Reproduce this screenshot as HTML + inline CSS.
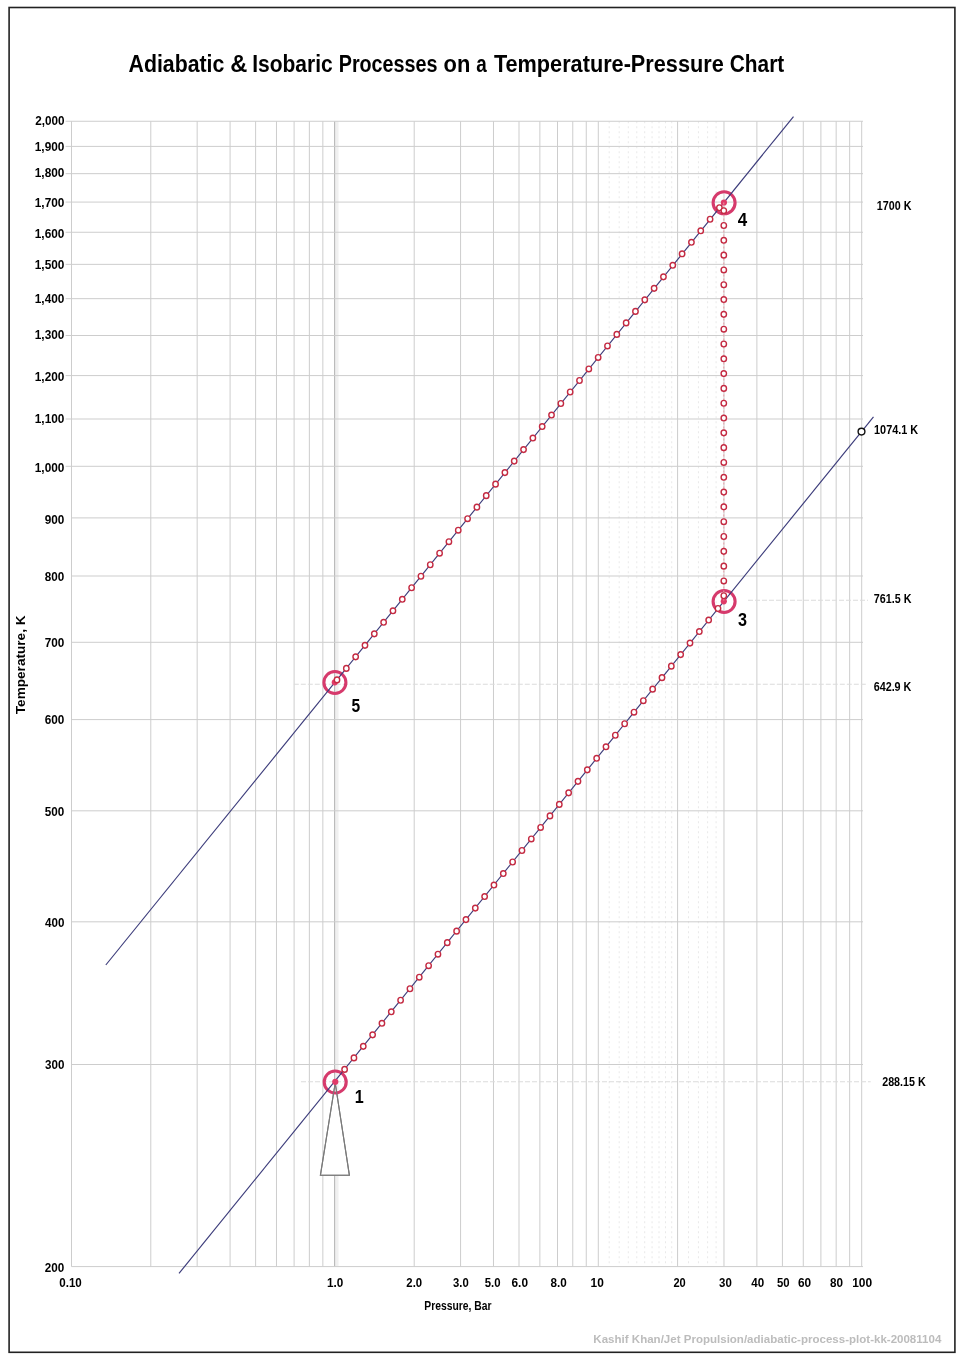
<!DOCTYPE html><html><head><meta charset="utf-8"><title>Adiabatic &amp; Isobaric Processes on a Temperature-Pressure Chart</title>
<style>html,body{margin:0;padding:0;background:#fff;overflow:hidden;}svg{display:block;}</style></head><body>
<svg width="960" height="1358" viewBox="0 0 960 1358">
<rect x="0" y="0" width="960" height="1358" fill="#fff"/>
<rect x="9.1" y="7.5" width="945.8" height="1344.8" fill="none" stroke="#222" stroke-width="1.6"/>
<text x="128.56" y="72.20" font-family="Liberation Sans, Arial, sans-serif" font-weight="bold" font-size="24.60" textLength="95.80" lengthAdjust="spacingAndGlyphs" fill="#000">Adiabatic</text>
<text x="230.25" y="72.20" font-family="Liberation Sans, Arial, sans-serif" font-weight="bold" font-size="24.60" textLength="17.11" lengthAdjust="spacingAndGlyphs" fill="#000">&amp;</text>
<text x="252.23" y="72.20" font-family="Liberation Sans, Arial, sans-serif" font-weight="bold" font-size="24.60" textLength="80.49" lengthAdjust="spacingAndGlyphs" fill="#000">Isobaric</text>
<text x="338.72" y="72.20" font-family="Liberation Sans, Arial, sans-serif" font-weight="bold" font-size="24.60" textLength="98.75" lengthAdjust="spacingAndGlyphs" fill="#000">Processes</text>
<text x="443.62" y="72.20" font-family="Liberation Sans, Arial, sans-serif" font-weight="bold" font-size="24.60" textLength="26.73" lengthAdjust="spacingAndGlyphs" fill="#000">on</text>
<text x="476.33" y="72.20" font-family="Liberation Sans, Arial, sans-serif" font-weight="bold" font-size="24.60" textLength="10.50" lengthAdjust="spacingAndGlyphs" fill="#000">a</text>
<text x="493.88" y="72.20" font-family="Liberation Sans, Arial, sans-serif" font-weight="bold" font-size="24.60" textLength="229.82" lengthAdjust="spacingAndGlyphs" fill="#000">Temperature-Pressure</text>
<text x="729.77" y="72.20" font-family="Liberation Sans, Arial, sans-serif" font-weight="bold" font-size="24.60" textLength="54.47" lengthAdjust="spacingAndGlyphs" fill="#000">Chart</text>
<line x1="609.20" y1="121.25" x2="609.20" y2="1266.60" stroke="#e9e9e9" stroke-width="1" stroke-dasharray="2 3"/>
<line x1="619.16" y1="121.25" x2="619.16" y2="1266.60" stroke="#e9e9e9" stroke-width="1" stroke-dasharray="2 3"/>
<line x1="628.31" y1="121.25" x2="628.31" y2="1266.60" stroke="#e9e9e9" stroke-width="1" stroke-dasharray="2 3"/>
<line x1="636.79" y1="121.25" x2="636.79" y2="1266.60" stroke="#e9e9e9" stroke-width="1" stroke-dasharray="2 3"/>
<line x1="644.68" y1="121.25" x2="644.68" y2="1266.60" stroke="#e9e9e9" stroke-width="1" stroke-dasharray="2 3"/>
<line x1="652.07" y1="121.25" x2="652.07" y2="1266.60" stroke="#e9e9e9" stroke-width="1" stroke-dasharray="2 3"/>
<line x1="659.00" y1="121.25" x2="659.00" y2="1266.60" stroke="#e9e9e9" stroke-width="1" stroke-dasharray="2 3"/>
<line x1="665.54" y1="121.25" x2="665.54" y2="1266.60" stroke="#e9e9e9" stroke-width="1" stroke-dasharray="2 3"/>
<line x1="671.72" y1="121.25" x2="671.72" y2="1266.60" stroke="#e9e9e9" stroke-width="1" stroke-dasharray="2 3"/>
<line x1="688.49" y1="121.25" x2="688.49" y2="1266.60" stroke="#e9e9e9" stroke-width="1" stroke-dasharray="2 3"/>
<line x1="698.45" y1="121.25" x2="698.45" y2="1266.60" stroke="#e9e9e9" stroke-width="1" stroke-dasharray="2 3"/>
<line x1="707.60" y1="121.25" x2="707.60" y2="1266.60" stroke="#e9e9e9" stroke-width="1" stroke-dasharray="2 3"/>
<line x1="716.08" y1="121.25" x2="716.08" y2="1266.60" stroke="#e9e9e9" stroke-width="1" stroke-dasharray="2 3"/>
<line x1="71.50" y1="121.25" x2="71.50" y2="1266.60" stroke="#cdcdcd" stroke-width="1"/>
<line x1="150.79" y1="121.25" x2="150.79" y2="1266.60" stroke="#cdcdcd" stroke-width="1"/>
<line x1="197.17" y1="121.25" x2="197.17" y2="1266.60" stroke="#cdcdcd" stroke-width="1"/>
<line x1="230.08" y1="121.25" x2="230.08" y2="1266.60" stroke="#cdcdcd" stroke-width="1"/>
<line x1="255.61" y1="121.25" x2="255.61" y2="1266.60" stroke="#cdcdcd" stroke-width="1"/>
<line x1="276.47" y1="121.25" x2="276.47" y2="1266.60" stroke="#cdcdcd" stroke-width="1"/>
<line x1="294.10" y1="121.25" x2="294.10" y2="1266.60" stroke="#cdcdcd" stroke-width="1"/>
<line x1="309.37" y1="121.25" x2="309.37" y2="1266.60" stroke="#cdcdcd" stroke-width="1"/>
<line x1="322.85" y1="121.25" x2="322.85" y2="1266.60" stroke="#cdcdcd" stroke-width="1"/>
<rect x="334.90" y="121.25" width="3.6" height="1145.35" fill="#f0f0f0"/>
<line x1="334.60" y1="121.25" x2="334.60" y2="1266.60" stroke="#b8b8b8" stroke-width="1.1"/>
<line x1="414.19" y1="121.25" x2="414.19" y2="1266.60" stroke="#cdcdcd" stroke-width="1"/>
<line x1="460.57" y1="121.25" x2="460.57" y2="1266.60" stroke="#cdcdcd" stroke-width="1"/>
<line x1="493.48" y1="121.25" x2="493.48" y2="1266.60" stroke="#cdcdcd" stroke-width="1"/>
<line x1="519.01" y1="121.25" x2="519.01" y2="1266.60" stroke="#cdcdcd" stroke-width="1"/>
<line x1="539.87" y1="121.25" x2="539.87" y2="1266.60" stroke="#cdcdcd" stroke-width="1"/>
<line x1="557.50" y1="121.25" x2="557.50" y2="1266.60" stroke="#cdcdcd" stroke-width="1"/>
<line x1="572.77" y1="121.25" x2="572.77" y2="1266.60" stroke="#cdcdcd" stroke-width="1"/>
<line x1="586.25" y1="121.25" x2="586.25" y2="1266.60" stroke="#cdcdcd" stroke-width="1"/>
<line x1="598.30" y1="121.25" x2="598.30" y2="1266.60" stroke="#cdcdcd" stroke-width="1"/>
<line x1="677.59" y1="121.25" x2="677.59" y2="1266.60" stroke="#cdcdcd" stroke-width="1"/>
<line x1="723.97" y1="121.25" x2="723.97" y2="1266.60" stroke="#cdcdcd" stroke-width="1"/>
<line x1="756.88" y1="121.25" x2="756.88" y2="1266.60" stroke="#cdcdcd" stroke-width="1"/>
<line x1="782.41" y1="121.25" x2="782.41" y2="1266.60" stroke="#cdcdcd" stroke-width="1"/>
<line x1="803.27" y1="121.25" x2="803.27" y2="1266.60" stroke="#cdcdcd" stroke-width="1"/>
<line x1="820.90" y1="121.25" x2="820.90" y2="1266.60" stroke="#cdcdcd" stroke-width="1"/>
<line x1="836.17" y1="121.25" x2="836.17" y2="1266.60" stroke="#cdcdcd" stroke-width="1"/>
<line x1="849.65" y1="121.25" x2="849.65" y2="1266.60" stroke="#cdcdcd" stroke-width="1"/>
<line x1="861.70" y1="121.25" x2="861.70" y2="1266.60" stroke="#cdcdcd" stroke-width="1"/>
<line x1="71.5" y1="1266.60" x2="863" y2="1266.60" stroke="#cdcdcd" stroke-width="1"/>
<line x1="71.5" y1="1064.50" x2="863" y2="1064.50" stroke="#cdcdcd" stroke-width="1"/>
<line x1="71.5" y1="921.82" x2="863" y2="921.82" stroke="#cdcdcd" stroke-width="1"/>
<line x1="71.5" y1="810.82" x2="863" y2="810.82" stroke="#cdcdcd" stroke-width="1"/>
<line x1="71.5" y1="719.60" x2="863" y2="719.60" stroke="#cdcdcd" stroke-width="1"/>
<line x1="71.5" y1="642.30" x2="863" y2="642.30" stroke="#cdcdcd" stroke-width="1"/>
<line x1="71.5" y1="576.00" x2="863" y2="576.00" stroke="#cdcdcd" stroke-width="1"/>
<line x1="71.5" y1="517.90" x2="863" y2="517.90" stroke="#cdcdcd" stroke-width="1"/>
<line x1="65.6" y1="466.30" x2="863" y2="466.30" stroke="#cdcdcd" stroke-width="1"/>
<line x1="65.6" y1="419.00" x2="863" y2="419.00" stroke="#cdcdcd" stroke-width="1"/>
<line x1="65.6" y1="375.60" x2="863" y2="375.60" stroke="#cdcdcd" stroke-width="1"/>
<line x1="65.6" y1="335.53" x2="863" y2="335.53" stroke="#cdcdcd" stroke-width="1"/>
<line x1="65.6" y1="298.67" x2="863" y2="298.67" stroke="#cdcdcd" stroke-width="1"/>
<line x1="65.6" y1="264.35" x2="863" y2="264.35" stroke="#cdcdcd" stroke-width="1"/>
<line x1="65.6" y1="232.25" x2="863" y2="232.25" stroke="#cdcdcd" stroke-width="1"/>
<line x1="65.6" y1="202.09" x2="863" y2="202.09" stroke="#cdcdcd" stroke-width="1"/>
<line x1="65.6" y1="173.66" x2="863" y2="173.66" stroke="#cdcdcd" stroke-width="1"/>
<line x1="65.6" y1="146.40" x2="863" y2="146.40" stroke="#cdcdcd" stroke-width="1"/>
<line x1="65.6" y1="121.25" x2="863" y2="121.25" stroke="#cdcdcd" stroke-width="1"/>
<line x1="301" y1="1081.8" x2="870.7" y2="1081.8" stroke="#dcdcdc" stroke-width="1.1" stroke-dasharray="5 2"/>
<line x1="293.8" y1="684.3" x2="866" y2="684.3" stroke="#dcdcdc" stroke-width="1.1" stroke-dasharray="5 2"/>
<line x1="748" y1="600.3" x2="868" y2="600.3" stroke="#dcdcdc" stroke-width="1.1" stroke-dasharray="5 2"/>
<text x="35.15" y="125.35" font-family="Liberation Sans, Arial, sans-serif" font-weight="bold" font-size="12.20" textLength="29.25" lengthAdjust="spacingAndGlyphs" fill="#000">2,000</text>
<text x="34.79" y="150.85" font-family="Liberation Sans, Arial, sans-serif" font-weight="bold" font-size="12.20" textLength="29.61" lengthAdjust="spacingAndGlyphs" fill="#000">1,900</text>
<text x="34.79" y="176.75" font-family="Liberation Sans, Arial, sans-serif" font-weight="bold" font-size="12.20" textLength="29.61" lengthAdjust="spacingAndGlyphs" fill="#000">1,800</text>
<text x="34.79" y="206.55" font-family="Liberation Sans, Arial, sans-serif" font-weight="bold" font-size="12.20" textLength="29.61" lengthAdjust="spacingAndGlyphs" fill="#000">1,700</text>
<text x="34.79" y="237.95" font-family="Liberation Sans, Arial, sans-serif" font-weight="bold" font-size="12.20" textLength="29.61" lengthAdjust="spacingAndGlyphs" fill="#000">1,600</text>
<text x="34.79" y="268.95" font-family="Liberation Sans, Arial, sans-serif" font-weight="bold" font-size="12.20" textLength="29.61" lengthAdjust="spacingAndGlyphs" fill="#000">1,500</text>
<text x="34.79" y="302.95" font-family="Liberation Sans, Arial, sans-serif" font-weight="bold" font-size="12.20" textLength="29.61" lengthAdjust="spacingAndGlyphs" fill="#000">1,400</text>
<text x="34.79" y="339.35" font-family="Liberation Sans, Arial, sans-serif" font-weight="bold" font-size="12.20" textLength="29.61" lengthAdjust="spacingAndGlyphs" fill="#000">1,300</text>
<text x="34.79" y="380.55" font-family="Liberation Sans, Arial, sans-serif" font-weight="bold" font-size="12.20" textLength="29.61" lengthAdjust="spacingAndGlyphs" fill="#000">1,200</text>
<text x="34.79" y="422.95" font-family="Liberation Sans, Arial, sans-serif" font-weight="bold" font-size="12.20" textLength="29.61" lengthAdjust="spacingAndGlyphs" fill="#000">1,100</text>
<text x="34.79" y="471.65" font-family="Liberation Sans, Arial, sans-serif" font-weight="bold" font-size="12.20" textLength="29.61" lengthAdjust="spacingAndGlyphs" fill="#000">1,000</text>
<text x="44.73" y="524.25" font-family="Liberation Sans, Arial, sans-serif" font-weight="bold" font-size="12.20" textLength="19.62" lengthAdjust="spacingAndGlyphs" fill="#000">900</text>
<text x="44.85" y="580.50" font-family="Liberation Sans, Arial, sans-serif" font-weight="bold" font-size="12.20" textLength="19.50" lengthAdjust="spacingAndGlyphs" fill="#000">800</text>
<text x="44.73" y="646.65" font-family="Liberation Sans, Arial, sans-serif" font-weight="bold" font-size="12.20" textLength="19.62" lengthAdjust="spacingAndGlyphs" fill="#000">700</text>
<text x="44.73" y="724.35" font-family="Liberation Sans, Arial, sans-serif" font-weight="bold" font-size="12.20" textLength="19.62" lengthAdjust="spacingAndGlyphs" fill="#000">600</text>
<text x="44.85" y="815.65" font-family="Liberation Sans, Arial, sans-serif" font-weight="bold" font-size="12.20" textLength="19.50" lengthAdjust="spacingAndGlyphs" fill="#000">500</text>
<text x="44.97" y="927.35" font-family="Liberation Sans, Arial, sans-serif" font-weight="bold" font-size="12.20" textLength="19.38" lengthAdjust="spacingAndGlyphs" fill="#000">400</text>
<text x="44.97" y="1068.55" font-family="Liberation Sans, Arial, sans-serif" font-weight="bold" font-size="12.20" textLength="19.38" lengthAdjust="spacingAndGlyphs" fill="#000">300</text>
<text x="44.85" y="1272.05" font-family="Liberation Sans, Arial, sans-serif" font-weight="bold" font-size="12.20" textLength="19.50" lengthAdjust="spacingAndGlyphs" fill="#000">200</text>
<text x="59.24" y="1286.80" font-family="Liberation Sans, Arial, sans-serif" font-weight="bold" font-size="12.20" textLength="22.55" lengthAdjust="spacingAndGlyphs" fill="#000">0.10</text>
<text x="327.00" y="1286.80" font-family="Liberation Sans, Arial, sans-serif" font-weight="bold" font-size="12.20" textLength="16.27" lengthAdjust="spacingAndGlyphs" fill="#000">1.0</text>
<text x="406.36" y="1286.80" font-family="Liberation Sans, Arial, sans-serif" font-weight="bold" font-size="12.20" textLength="15.80" lengthAdjust="spacingAndGlyphs" fill="#000">2.0</text>
<text x="453.07" y="1286.80" font-family="Liberation Sans, Arial, sans-serif" font-weight="bold" font-size="12.20" textLength="15.68" lengthAdjust="spacingAndGlyphs" fill="#000">3.0</text>
<text x="484.66" y="1286.80" font-family="Liberation Sans, Arial, sans-serif" font-weight="bold" font-size="12.20" textLength="15.80" lengthAdjust="spacingAndGlyphs" fill="#000">5.0</text>
<text x="511.53" y="1286.80" font-family="Liberation Sans, Arial, sans-serif" font-weight="bold" font-size="12.20" textLength="16.45" lengthAdjust="spacingAndGlyphs" fill="#000">6.0</text>
<text x="550.45" y="1286.80" font-family="Liberation Sans, Arial, sans-serif" font-weight="bold" font-size="12.20" textLength="16.22" lengthAdjust="spacingAndGlyphs" fill="#000">8.0</text>
<text x="590.59" y="1286.80" font-family="Liberation Sans, Arial, sans-serif" font-weight="bold" font-size="12.20" textLength="13.22" lengthAdjust="spacingAndGlyphs" fill="#000">10</text>
<text x="673.47" y="1286.80" font-family="Liberation Sans, Arial, sans-serif" font-weight="bold" font-size="12.20" textLength="12.30" lengthAdjust="spacingAndGlyphs" fill="#000">20</text>
<text x="719.07" y="1286.80" font-family="Liberation Sans, Arial, sans-serif" font-weight="bold" font-size="12.20" textLength="12.71" lengthAdjust="spacingAndGlyphs" fill="#000">30</text>
<text x="751.37" y="1286.80" font-family="Liberation Sans, Arial, sans-serif" font-weight="bold" font-size="12.20" textLength="12.92" lengthAdjust="spacingAndGlyphs" fill="#000">40</text>
<text x="776.96" y="1286.80" font-family="Liberation Sans, Arial, sans-serif" font-weight="bold" font-size="12.20" textLength="12.62" lengthAdjust="spacingAndGlyphs" fill="#000">50</text>
<text x="798.03" y="1286.80" font-family="Liberation Sans, Arial, sans-serif" font-weight="bold" font-size="12.20" textLength="13.18" lengthAdjust="spacingAndGlyphs" fill="#000">60</text>
<text x="830.05" y="1286.80" font-family="Liberation Sans, Arial, sans-serif" font-weight="bold" font-size="12.20" textLength="13.05" lengthAdjust="spacingAndGlyphs" fill="#000">80</text>
<text x="852.18" y="1286.80" font-family="Liberation Sans, Arial, sans-serif" font-weight="bold" font-size="12.20" textLength="19.98" lengthAdjust="spacingAndGlyphs" fill="#000">100</text>
<text x="424.28" y="1310.00" font-family="Liberation Sans, Arial, sans-serif" font-weight="bold" font-size="12.00" textLength="67.17" lengthAdjust="spacingAndGlyphs" fill="#000">Pressure, Bar</text>
<text transform="translate(25.2,714.24) rotate(-90)" x="0" y="0" font-family="Liberation Sans, Arial, sans-serif" font-weight="bold" font-size="13.3" textLength="98.79" lengthAdjust="spacingAndGlyphs" fill="#000">Temperature, K</text>
<text x="876.86" y="210.20" font-family="Liberation Sans, Arial, sans-serif" font-weight="bold" font-size="12.20" textLength="34.55" lengthAdjust="spacingAndGlyphs" fill="#000">1700 K</text>
<text x="874.05" y="433.80" font-family="Liberation Sans, Arial, sans-serif" font-weight="bold" font-size="12.20" textLength="44.15" lengthAdjust="spacingAndGlyphs" fill="#000">1074.1 K</text>
<text x="873.82" y="603.20" font-family="Liberation Sans, Arial, sans-serif" font-weight="bold" font-size="12.20" textLength="37.56" lengthAdjust="spacingAndGlyphs" fill="#000">761.5 K</text>
<text x="873.67" y="690.60" font-family="Liberation Sans, Arial, sans-serif" font-weight="bold" font-size="12.20" textLength="37.72" lengthAdjust="spacingAndGlyphs" fill="#000">642.9 K</text>
<text x="882.18" y="1085.70" font-family="Liberation Sans, Arial, sans-serif" font-weight="bold" font-size="12.20" textLength="43.51" lengthAdjust="spacingAndGlyphs" fill="#000">288.15 K</text>
<path d="M335.2,1083 L320.4,1175.3 L349.4,1175.3 Z" fill="#fff" stroke="#7a7a7a" stroke-width="1.1"/>
<circle cx="335.2" cy="1082.0" r="11.0" fill="none" stroke="#d63a6c" stroke-width="3.1"/>
<circle cx="724.1" cy="601.5" r="11.0" fill="none" stroke="#d63a6c" stroke-width="3.1"/>
<circle cx="724.1" cy="202.8" r="11.0" fill="none" stroke="#d63a6c" stroke-width="3.1"/>
<circle cx="334.9" cy="682.5" r="11.0" fill="none" stroke="#d63a6c" stroke-width="3.1"/>
<path d="M335.2,1083 L320.4,1175.3 L349.4,1175.3 Z" fill="none" stroke="#7a7a7a" stroke-width="1.1"/>
<line x1="179" y1="1273.4" x2="873.5" y2="416.9" stroke="#3b3b7a" stroke-width="1.15"/>
<line x1="105.8" y1="965.0" x2="793.5" y2="116.6" stroke="#3b3b7a" stroke-width="1.15"/>
<circle cx="335.3" cy="1081.8" r="3.1" fill="#e03a68"/>
<circle cx="723.8" cy="601.3" r="3.1" fill="#e03a68"/>
<circle cx="723.9" cy="202.5" r="3.1" fill="#e03a68"/>
<circle cx="334.8" cy="682.3" r="3.1" fill="#e03a68"/>
<line x1="723.8" y1="202.5" x2="723.8" y2="601.4" stroke="#e8a0a8" stroke-width="1" stroke-dasharray="2 2"/>
<ellipse cx="337.00" cy="679.90" rx="2.7" ry="2.85" fill="#fff" stroke="#c42a42" stroke-width="1.4"/>
<ellipse cx="346.33" cy="668.38" rx="2.7" ry="2.85" fill="#fff" stroke="#c42a42" stroke-width="1.4"/>
<ellipse cx="355.65" cy="656.87" rx="2.7" ry="2.85" fill="#fff" stroke="#c42a42" stroke-width="1.4"/>
<ellipse cx="364.98" cy="645.35" rx="2.7" ry="2.85" fill="#fff" stroke="#c42a42" stroke-width="1.4"/>
<ellipse cx="374.31" cy="633.84" rx="2.7" ry="2.85" fill="#fff" stroke="#c42a42" stroke-width="1.4"/>
<ellipse cx="383.63" cy="622.32" rx="2.7" ry="2.85" fill="#fff" stroke="#c42a42" stroke-width="1.4"/>
<ellipse cx="392.96" cy="610.80" rx="2.7" ry="2.85" fill="#fff" stroke="#c42a42" stroke-width="1.4"/>
<ellipse cx="402.29" cy="599.29" rx="2.7" ry="2.85" fill="#fff" stroke="#c42a42" stroke-width="1.4"/>
<ellipse cx="411.62" cy="587.77" rx="2.7" ry="2.85" fill="#fff" stroke="#c42a42" stroke-width="1.4"/>
<ellipse cx="420.94" cy="576.26" rx="2.7" ry="2.85" fill="#fff" stroke="#c42a42" stroke-width="1.4"/>
<ellipse cx="430.27" cy="564.74" rx="2.7" ry="2.85" fill="#fff" stroke="#c42a42" stroke-width="1.4"/>
<ellipse cx="439.60" cy="553.22" rx="2.7" ry="2.85" fill="#fff" stroke="#c42a42" stroke-width="1.4"/>
<ellipse cx="448.92" cy="541.71" rx="2.7" ry="2.85" fill="#fff" stroke="#c42a42" stroke-width="1.4"/>
<ellipse cx="458.25" cy="530.19" rx="2.7" ry="2.85" fill="#fff" stroke="#c42a42" stroke-width="1.4"/>
<ellipse cx="467.58" cy="518.68" rx="2.7" ry="2.85" fill="#fff" stroke="#c42a42" stroke-width="1.4"/>
<ellipse cx="476.90" cy="507.16" rx="2.7" ry="2.85" fill="#fff" stroke="#c42a42" stroke-width="1.4"/>
<ellipse cx="486.23" cy="495.64" rx="2.7" ry="2.85" fill="#fff" stroke="#c42a42" stroke-width="1.4"/>
<ellipse cx="495.56" cy="484.13" rx="2.7" ry="2.85" fill="#fff" stroke="#c42a42" stroke-width="1.4"/>
<ellipse cx="504.89" cy="472.61" rx="2.7" ry="2.85" fill="#fff" stroke="#c42a42" stroke-width="1.4"/>
<ellipse cx="514.21" cy="461.10" rx="2.7" ry="2.85" fill="#fff" stroke="#c42a42" stroke-width="1.4"/>
<ellipse cx="523.54" cy="449.58" rx="2.7" ry="2.85" fill="#fff" stroke="#c42a42" stroke-width="1.4"/>
<ellipse cx="532.87" cy="438.06" rx="2.7" ry="2.85" fill="#fff" stroke="#c42a42" stroke-width="1.4"/>
<ellipse cx="542.19" cy="426.55" rx="2.7" ry="2.85" fill="#fff" stroke="#c42a42" stroke-width="1.4"/>
<ellipse cx="551.52" cy="415.03" rx="2.7" ry="2.85" fill="#fff" stroke="#c42a42" stroke-width="1.4"/>
<ellipse cx="560.85" cy="403.52" rx="2.7" ry="2.85" fill="#fff" stroke="#c42a42" stroke-width="1.4"/>
<ellipse cx="570.17" cy="392.00" rx="2.7" ry="2.85" fill="#fff" stroke="#c42a42" stroke-width="1.4"/>
<ellipse cx="579.50" cy="380.48" rx="2.7" ry="2.85" fill="#fff" stroke="#c42a42" stroke-width="1.4"/>
<ellipse cx="588.83" cy="368.97" rx="2.7" ry="2.85" fill="#fff" stroke="#c42a42" stroke-width="1.4"/>
<ellipse cx="598.16" cy="357.45" rx="2.7" ry="2.85" fill="#fff" stroke="#c42a42" stroke-width="1.4"/>
<ellipse cx="607.48" cy="345.94" rx="2.7" ry="2.85" fill="#fff" stroke="#c42a42" stroke-width="1.4"/>
<ellipse cx="616.81" cy="334.42" rx="2.7" ry="2.85" fill="#fff" stroke="#c42a42" stroke-width="1.4"/>
<ellipse cx="626.14" cy="322.90" rx="2.7" ry="2.85" fill="#fff" stroke="#c42a42" stroke-width="1.4"/>
<ellipse cx="635.46" cy="311.39" rx="2.7" ry="2.85" fill="#fff" stroke="#c42a42" stroke-width="1.4"/>
<ellipse cx="644.79" cy="299.87" rx="2.7" ry="2.85" fill="#fff" stroke="#c42a42" stroke-width="1.4"/>
<ellipse cx="654.12" cy="288.36" rx="2.7" ry="2.85" fill="#fff" stroke="#c42a42" stroke-width="1.4"/>
<ellipse cx="663.44" cy="276.84" rx="2.7" ry="2.85" fill="#fff" stroke="#c42a42" stroke-width="1.4"/>
<ellipse cx="672.77" cy="265.32" rx="2.7" ry="2.85" fill="#fff" stroke="#c42a42" stroke-width="1.4"/>
<ellipse cx="682.10" cy="253.81" rx="2.7" ry="2.85" fill="#fff" stroke="#c42a42" stroke-width="1.4"/>
<ellipse cx="691.43" cy="242.29" rx="2.7" ry="2.85" fill="#fff" stroke="#c42a42" stroke-width="1.4"/>
<ellipse cx="700.75" cy="230.78" rx="2.7" ry="2.85" fill="#fff" stroke="#c42a42" stroke-width="1.4"/>
<ellipse cx="710.08" cy="219.26" rx="2.7" ry="2.85" fill="#fff" stroke="#c42a42" stroke-width="1.4"/>
<ellipse cx="719.41" cy="207.74" rx="2.7" ry="2.85" fill="#fff" stroke="#c42a42" stroke-width="1.4"/>
<ellipse cx="344.60" cy="1069.40" rx="2.7" ry="2.85" fill="#fff" stroke="#c42a42" stroke-width="1.4"/>
<ellipse cx="353.94" cy="1057.88" rx="2.7" ry="2.85" fill="#fff" stroke="#c42a42" stroke-width="1.4"/>
<ellipse cx="363.27" cy="1046.36" rx="2.7" ry="2.85" fill="#fff" stroke="#c42a42" stroke-width="1.4"/>
<ellipse cx="372.61" cy="1034.83" rx="2.7" ry="2.85" fill="#fff" stroke="#c42a42" stroke-width="1.4"/>
<ellipse cx="381.94" cy="1023.31" rx="2.7" ry="2.85" fill="#fff" stroke="#c42a42" stroke-width="1.4"/>
<ellipse cx="391.28" cy="1011.79" rx="2.7" ry="2.85" fill="#fff" stroke="#c42a42" stroke-width="1.4"/>
<ellipse cx="400.61" cy="1000.27" rx="2.7" ry="2.85" fill="#fff" stroke="#c42a42" stroke-width="1.4"/>
<ellipse cx="409.95" cy="988.75" rx="2.7" ry="2.85" fill="#fff" stroke="#c42a42" stroke-width="1.4"/>
<ellipse cx="419.28" cy="977.22" rx="2.7" ry="2.85" fill="#fff" stroke="#c42a42" stroke-width="1.4"/>
<ellipse cx="428.62" cy="965.70" rx="2.7" ry="2.85" fill="#fff" stroke="#c42a42" stroke-width="1.4"/>
<ellipse cx="437.95" cy="954.18" rx="2.7" ry="2.85" fill="#fff" stroke="#c42a42" stroke-width="1.4"/>
<ellipse cx="447.29" cy="942.66" rx="2.7" ry="2.85" fill="#fff" stroke="#c42a42" stroke-width="1.4"/>
<ellipse cx="456.62" cy="931.14" rx="2.7" ry="2.85" fill="#fff" stroke="#c42a42" stroke-width="1.4"/>
<ellipse cx="465.96" cy="919.61" rx="2.7" ry="2.85" fill="#fff" stroke="#c42a42" stroke-width="1.4"/>
<ellipse cx="475.29" cy="908.09" rx="2.7" ry="2.85" fill="#fff" stroke="#c42a42" stroke-width="1.4"/>
<ellipse cx="484.62" cy="896.57" rx="2.7" ry="2.85" fill="#fff" stroke="#c42a42" stroke-width="1.4"/>
<ellipse cx="493.96" cy="885.05" rx="2.7" ry="2.85" fill="#fff" stroke="#c42a42" stroke-width="1.4"/>
<ellipse cx="503.30" cy="873.53" rx="2.7" ry="2.85" fill="#fff" stroke="#c42a42" stroke-width="1.4"/>
<ellipse cx="512.63" cy="862.00" rx="2.7" ry="2.85" fill="#fff" stroke="#c42a42" stroke-width="1.4"/>
<ellipse cx="521.97" cy="850.48" rx="2.7" ry="2.85" fill="#fff" stroke="#c42a42" stroke-width="1.4"/>
<ellipse cx="531.30" cy="838.96" rx="2.7" ry="2.85" fill="#fff" stroke="#c42a42" stroke-width="1.4"/>
<ellipse cx="540.63" cy="827.44" rx="2.7" ry="2.85" fill="#fff" stroke="#c42a42" stroke-width="1.4"/>
<ellipse cx="549.97" cy="815.92" rx="2.7" ry="2.85" fill="#fff" stroke="#c42a42" stroke-width="1.4"/>
<ellipse cx="559.31" cy="804.39" rx="2.7" ry="2.85" fill="#fff" stroke="#c42a42" stroke-width="1.4"/>
<ellipse cx="568.64" cy="792.87" rx="2.7" ry="2.85" fill="#fff" stroke="#c42a42" stroke-width="1.4"/>
<ellipse cx="577.98" cy="781.35" rx="2.7" ry="2.85" fill="#fff" stroke="#c42a42" stroke-width="1.4"/>
<ellipse cx="587.31" cy="769.83" rx="2.7" ry="2.85" fill="#fff" stroke="#c42a42" stroke-width="1.4"/>
<ellipse cx="596.64" cy="758.31" rx="2.7" ry="2.85" fill="#fff" stroke="#c42a42" stroke-width="1.4"/>
<ellipse cx="605.98" cy="746.78" rx="2.7" ry="2.85" fill="#fff" stroke="#c42a42" stroke-width="1.4"/>
<ellipse cx="615.32" cy="735.26" rx="2.7" ry="2.85" fill="#fff" stroke="#c42a42" stroke-width="1.4"/>
<ellipse cx="624.65" cy="723.74" rx="2.7" ry="2.85" fill="#fff" stroke="#c42a42" stroke-width="1.4"/>
<ellipse cx="633.99" cy="712.22" rx="2.7" ry="2.85" fill="#fff" stroke="#c42a42" stroke-width="1.4"/>
<ellipse cx="643.32" cy="700.70" rx="2.7" ry="2.85" fill="#fff" stroke="#c42a42" stroke-width="1.4"/>
<ellipse cx="652.65" cy="689.17" rx="2.7" ry="2.85" fill="#fff" stroke="#c42a42" stroke-width="1.4"/>
<ellipse cx="661.99" cy="677.65" rx="2.7" ry="2.85" fill="#fff" stroke="#c42a42" stroke-width="1.4"/>
<ellipse cx="671.33" cy="666.13" rx="2.7" ry="2.85" fill="#fff" stroke="#c42a42" stroke-width="1.4"/>
<ellipse cx="680.66" cy="654.61" rx="2.7" ry="2.85" fill="#fff" stroke="#c42a42" stroke-width="1.4"/>
<ellipse cx="690.00" cy="643.09" rx="2.7" ry="2.85" fill="#fff" stroke="#c42a42" stroke-width="1.4"/>
<ellipse cx="699.33" cy="631.56" rx="2.7" ry="2.85" fill="#fff" stroke="#c42a42" stroke-width="1.4"/>
<ellipse cx="708.67" cy="620.04" rx="2.7" ry="2.85" fill="#fff" stroke="#c42a42" stroke-width="1.4"/>
<ellipse cx="718.00" cy="608.52" rx="2.7" ry="2.85" fill="#fff" stroke="#c42a42" stroke-width="1.4"/>
<ellipse cx="723.80" cy="210.70" rx="2.7" ry="2.85" fill="#fff" stroke="#c42a42" stroke-width="1.4"/>
<ellipse cx="723.80" cy="225.51" rx="2.7" ry="2.85" fill="#fff" stroke="#c42a42" stroke-width="1.4"/>
<ellipse cx="723.80" cy="240.32" rx="2.7" ry="2.85" fill="#fff" stroke="#c42a42" stroke-width="1.4"/>
<ellipse cx="723.80" cy="255.13" rx="2.7" ry="2.85" fill="#fff" stroke="#c42a42" stroke-width="1.4"/>
<ellipse cx="723.80" cy="269.94" rx="2.7" ry="2.85" fill="#fff" stroke="#c42a42" stroke-width="1.4"/>
<ellipse cx="723.80" cy="284.75" rx="2.7" ry="2.85" fill="#fff" stroke="#c42a42" stroke-width="1.4"/>
<ellipse cx="723.80" cy="299.56" rx="2.7" ry="2.85" fill="#fff" stroke="#c42a42" stroke-width="1.4"/>
<ellipse cx="723.80" cy="314.37" rx="2.7" ry="2.85" fill="#fff" stroke="#c42a42" stroke-width="1.4"/>
<ellipse cx="723.80" cy="329.18" rx="2.7" ry="2.85" fill="#fff" stroke="#c42a42" stroke-width="1.4"/>
<ellipse cx="723.80" cy="343.99" rx="2.7" ry="2.85" fill="#fff" stroke="#c42a42" stroke-width="1.4"/>
<ellipse cx="723.80" cy="358.80" rx="2.7" ry="2.85" fill="#fff" stroke="#c42a42" stroke-width="1.4"/>
<ellipse cx="723.80" cy="373.61" rx="2.7" ry="2.85" fill="#fff" stroke="#c42a42" stroke-width="1.4"/>
<ellipse cx="723.80" cy="388.42" rx="2.7" ry="2.85" fill="#fff" stroke="#c42a42" stroke-width="1.4"/>
<ellipse cx="723.80" cy="403.23" rx="2.7" ry="2.85" fill="#fff" stroke="#c42a42" stroke-width="1.4"/>
<ellipse cx="723.80" cy="418.04" rx="2.7" ry="2.85" fill="#fff" stroke="#c42a42" stroke-width="1.4"/>
<ellipse cx="723.80" cy="432.85" rx="2.7" ry="2.85" fill="#fff" stroke="#c42a42" stroke-width="1.4"/>
<ellipse cx="723.80" cy="447.66" rx="2.7" ry="2.85" fill="#fff" stroke="#c42a42" stroke-width="1.4"/>
<ellipse cx="723.80" cy="462.47" rx="2.7" ry="2.85" fill="#fff" stroke="#c42a42" stroke-width="1.4"/>
<ellipse cx="723.80" cy="477.28" rx="2.7" ry="2.85" fill="#fff" stroke="#c42a42" stroke-width="1.4"/>
<ellipse cx="723.80" cy="492.09" rx="2.7" ry="2.85" fill="#fff" stroke="#c42a42" stroke-width="1.4"/>
<ellipse cx="723.80" cy="506.90" rx="2.7" ry="2.85" fill="#fff" stroke="#c42a42" stroke-width="1.4"/>
<ellipse cx="723.80" cy="521.71" rx="2.7" ry="2.85" fill="#fff" stroke="#c42a42" stroke-width="1.4"/>
<ellipse cx="723.80" cy="536.52" rx="2.7" ry="2.85" fill="#fff" stroke="#c42a42" stroke-width="1.4"/>
<ellipse cx="723.80" cy="551.33" rx="2.7" ry="2.85" fill="#fff" stroke="#c42a42" stroke-width="1.4"/>
<ellipse cx="723.80" cy="566.14" rx="2.7" ry="2.85" fill="#fff" stroke="#c42a42" stroke-width="1.4"/>
<ellipse cx="723.80" cy="580.95" rx="2.7" ry="2.85" fill="#fff" stroke="#c42a42" stroke-width="1.4"/>
<ellipse cx="723.80" cy="595.76" rx="2.7" ry="2.85" fill="#fff" stroke="#c42a42" stroke-width="1.4"/>
<circle cx="861.5" cy="431.6" r="3.4" fill="#fff" stroke="#111" stroke-width="1.4"/>
<text x="354.83" y="1103.00" font-family="Liberation Sans, Arial, sans-serif" font-weight="bold" font-size="18.30" textLength="8.99" lengthAdjust="spacingAndGlyphs" fill="#000">1</text>
<text x="737.98" y="625.80" font-family="Liberation Sans, Arial, sans-serif" font-weight="bold" font-size="18.30" textLength="9.01" lengthAdjust="spacingAndGlyphs" fill="#000">3</text>
<text x="737.66" y="225.80" font-family="Liberation Sans, Arial, sans-serif" font-weight="bold" font-size="18.30" textLength="9.45" lengthAdjust="spacingAndGlyphs" fill="#000">4</text>
<text x="351.53" y="711.50" font-family="Liberation Sans, Arial, sans-serif" font-weight="bold" font-size="18.30" textLength="8.68" lengthAdjust="spacingAndGlyphs" fill="#000">5</text>
<text x="593.39" y="1342.60" font-family="Liberation Sans, Arial, sans-serif" font-weight="bold" font-size="11.20" textLength="347.93" lengthAdjust="spacingAndGlyphs" fill="#bcbcbc">Kashif Khan/Jet Propulsion/adiabatic-process-plot-kk-20081104</text>
</svg></body></html>
